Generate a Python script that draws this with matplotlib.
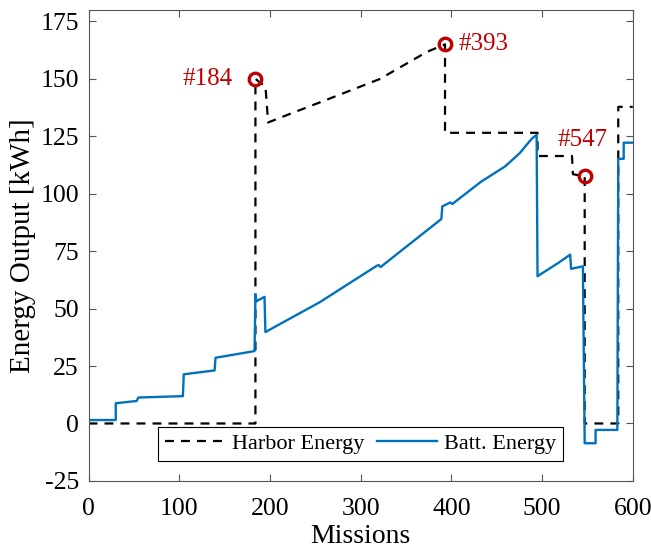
import matplotlib
matplotlib.use("Agg")
import matplotlib.pyplot as plt

plt.rcParams['font.family'] = ['Liberation Serif', 'DejaVu Serif']
plt.rcParams['axes.unicode_minus'] = False

# Harbor energy (step-like dashed curve)
harbor_x = [0, 184, 184, 190, 195, 198, 214, 260, 321, 373, 393, 393, 495, 495, 533, 534, 547, 547, 584, 584, 600]
harbor_y = [0, 0, 150, 148, 147, 131, 133.5, 140.5, 149.9, 161.7, 165, 126.5, 126.5, 116.4, 116.4, 108.5, 107.5, 0, 0, 137.8, 137.8]

# Battery energy
batt_x = [0, 30, 30, 53, 55, 104, 105, 139, 140, 183, 184, 185, 194, 195, 255, 318, 320, 322,
          389, 390, 399, 401, 433, 459, 475, 489, 494, 495, 518, 531, 532, 545, 547, 559, 559,
          583, 584, 590, 590, 600]
batt_y = [1.5, 1.5, 8.8, 9.8, 11.3, 11.9, 21.4, 23.1, 28.6, 31.5, 56.1, 53.2, 55.1, 39.8, 52.8, 68.7, 68.9, 68.1,
          89, 94.5, 96.2, 95.5, 105.3, 111.8, 117.5, 124.1, 125.6, 64.1, 69.9, 73.5, 67.3, 68.4, -8.6, -8.6, -2.8,
          -2.8, 115.2, 115.2, 122.2, 122.2]

# highlighted missions
mark_x = [184, 393, 547]
mark_y = [150, 165, 107.5]
mark_text = ["#184", "#393", "#547"]

red = "#C00000"
blue = "#0072BD"

fig = plt.figure(figsize=(6.51, 5.49), dpi=100)
ax = fig.add_axes([0.136, 0.124, 0.836, 0.858])

ax.plot(harbor_x, harbor_y, color="black", linestyle=(0, (4, 3.2)), linewidth=1.6, label="Harbor Energy")
ax.plot(batt_x, batt_y, color=blue, linewidth=1.7, label="Batt. Energy")
ax.plot(mark_x, mark_y, "o", markersize=9, markerfacecolor="none", markeredgecolor=red,
        markeredgewidth=2.4, zorder=5)

ax.text(mark_x[0] - 25, mark_y[0], mark_text[0], color=red, fontsize=18, ha="right", va="center")
ax.text(mark_x[1] + 15, mark_y[1], mark_text[1], color=red, fontsize=18, ha="left", va="center")
ax.text(mark_x[2] - 2, mark_y[2] + 16, mark_text[2], color=red, fontsize=18, ha="center", va="center")

ax.set_xlim(0, 600)
ax.set_ylim(-25, 180)
ax.set_xticks(range(0, 601, 100))
ax.set_yticks(range(-25, 176, 25))
ax.tick_params(direction="in", top=True, right=True, labelsize=18.5, length=5, color="#555555")
ax.tick_params(axis="x", pad=12.5)
ax.tick_params(axis="y", pad=7)
for s in ax.spines.values():
    s.set_color("#555555")
    s.set_linewidth(0.8)

ax.set_xlabel("Missions", fontsize=20, labelpad=3)
ax.set_ylabel("Energy Output [kWh]", fontsize=21, labelpad=3)

leg = ax.legend(loc="lower center", ncol=2, fontsize=16, frameon=True, fancybox=False,
                edgecolor="black", framealpha=1, handlelength=2.7, handletextpad=0.3,
                columnspacing=0.6, borderpad=0.3, bbox_to_anchor=(0.5, 0.019))
leg.get_frame().set_linewidth(0.8)

fig.savefig("out.png", dpi=100)
